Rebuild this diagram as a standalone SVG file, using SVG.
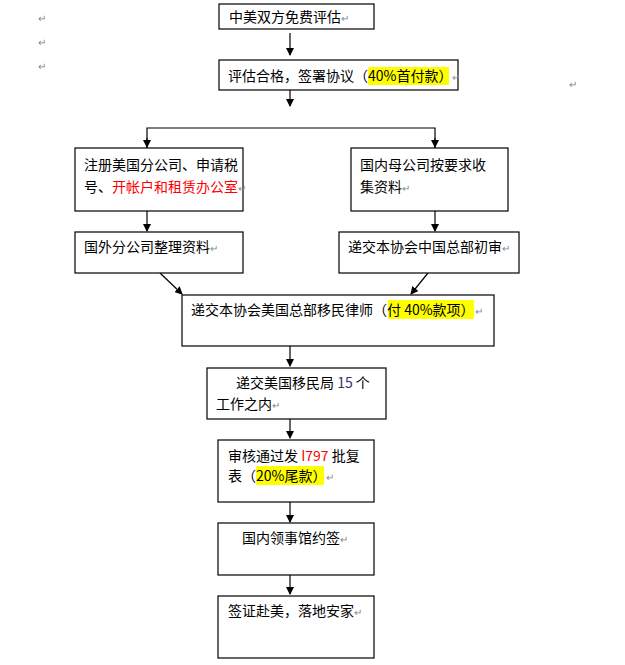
<svg xmlns="http://www.w3.org/2000/svg" width="625" height="665" viewBox="0 0 625 665">
<defs>
<marker id="ah" markerWidth="8" markerHeight="8" refX="7" refY="4" orient="auto" markerUnits="userSpaceOnUse"><path d="M0,0 L8,4 L0,8 Z" fill="#000"/></marker>
<style>
.b{fill:#fff;stroke:#000;stroke-width:1.2}
text{font-family:"Noto Sans CJK SC","Liberation Serif",sans-serif;font-size:14px;fill:#000}
.r{fill:#f00}
.m{fill:#888;font-size:10px}
.hl{fill:#ffff00}
.c{stroke:#000;stroke-width:1.2;fill:none}
</style>
</defs>
<rect width="625" height="665" fill="#fff"/>
<text class="m" x="38" y="22">↵</text>
<text class="m" x="38" y="46">↵</text>
<text class="m" x="38" y="70">↵</text>
<text class="m" x="569" y="88">↵</text>
<g id="connectors">
<line class="c" x1="290" y1="33" x2="290" y2="55" marker-end="url(#ah)"/>
<line class="c" x1="290" y1="90" x2="290" y2="106" marker-end="url(#ah)"/>
<polyline class="c" points="147,148 147,128 435,128 435,148"/>
<line class="c" x1="147" y1="138" x2="147" y2="147" marker-end="url(#ah)"/>
<line class="c" x1="435" y1="138" x2="435" y2="147" marker-end="url(#ah)"/>
<line class="c" x1="147" y1="211" x2="147" y2="231" marker-end="url(#ah)"/>
<line class="c" x1="435" y1="211" x2="435" y2="231" marker-end="url(#ah)"/>
<line class="c" x1="160" y1="273" x2="182" y2="294" marker-end="url(#ah)"/>
<line class="c" x1="428" y1="273" x2="411" y2="294" marker-end="url(#ah)"/>
<line class="c" x1="290" y1="346" x2="290" y2="366" marker-end="url(#ah)"/>
<line class="c" x1="290" y1="419" x2="290" y2="438" marker-end="url(#ah)"/>
<line class="c" x1="290" y1="502" x2="290" y2="522" marker-end="url(#ah)"/>
<line class="c" x1="290" y1="575" x2="290" y2="594" marker-end="url(#ah)"/>
</g>
<g id="n1"><rect class="b" x="219" y="4" width="155" height="25"/><text x="229" y="22">中美双方免费评估<tspan class="m">↵</tspan></text></g>
<g id="n2"><rect class="b" x="219" y="60" width="239" height="30"/><rect class="hl" x="368" y="67" width="81" height="18"/><text x="228" y="81">评估合格，签署协议（40%首付款）<tspan class="m">↵</tspan></text></g>
<g id="n3a"><rect class="b" x="75" y="148" width="168" height="63"/><text x="84" y="170">注册美国分公司、申请税</text><text x="84" y="192">号、<tspan class="r">开帐户和租赁办公室</tspan><tspan class="m">↵</tspan></text></g>
<g id="n3b"><rect class="b" x="351" y="148" width="157" height="63"/><text x="360" y="170">国内母公司按要求收</text><text x="360" y="192">集资料<tspan class="m">↵</tspan></text></g>
<g id="n4a"><rect class="b" x="75" y="232" width="168" height="41"/><text x="84" y="252">国外分公司整理资料<tspan class="m">↵</tspan></text></g>
<g id="n4b"><rect class="b" x="339" y="232" width="180" height="41"/><text x="348" y="252">递交本协会中国总部初审<tspan class="m">↵</tspan></text></g>
<g id="n5"><rect class="b" x="182" y="295" width="312" height="51"/><rect class="hl" x="388" y="300" width="86" height="19"/><text x="191" y="315">递交本协会美国总部移民律师（付 40%款项）<tspan class="m">↵</tspan></text></g>
<g id="n6"><rect class="b" x="207" y="368" width="179" height="51"/><text x="236" y="388">递交美国移民局  <tspan fill="#336">15</tspan>  个</text><text x="216" y="409">工作之内<tspan class="m">↵</tspan></text></g>
<g id="n7"><rect class="b" x="218" y="440" width="156" height="62"/><rect class="hl" x="256" y="466" width="68" height="19"/><text x="228" y="461">审核通过发 <tspan class="r">I797</tspan> 批复</text><text x="228" y="481">表（20%尾款）<tspan class="m">↵</tspan></text></g>
<g id="n8"><rect class="b" x="218" y="523" width="156" height="52"/><text x="242" y="543">国内领事馆约签<tspan class="m">↵</tspan></text></g>
<g id="n9"><rect class="b" x="218" y="596" width="156" height="62"/><text x="228" y="616">签证赴美，落地安家<tspan class="m">↵</tspan></text></g>
</svg>
